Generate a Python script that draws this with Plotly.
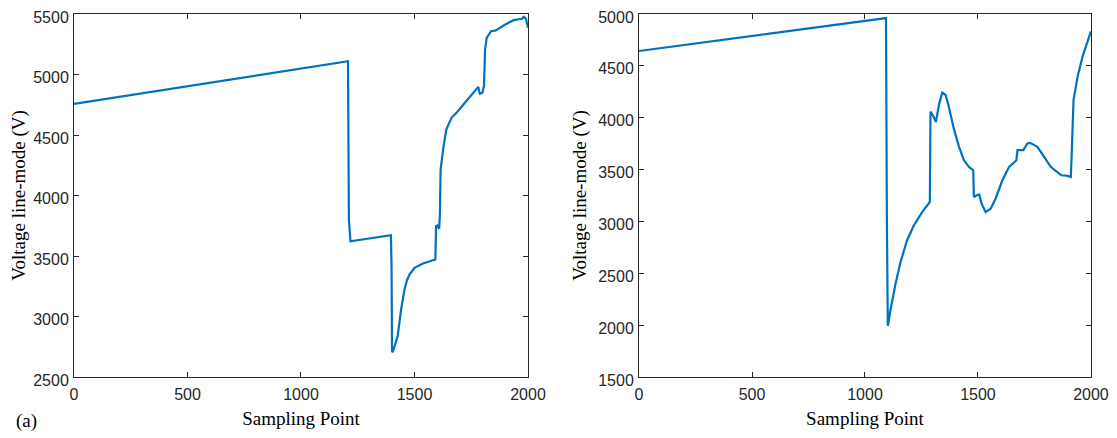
import plotly.graph_objects as go
from plotly.subplots import make_subplots

# left panel (a)
x_a = [0, 1207, 1211, 1215, 1218, 1396, 1399, 1401, 1404, 1408, 1416, 1426, 1441, 1456, 1467, 1478, 1500, 1537,
       1592, 1595, 1601, 1607, 1609, 1612, 1615, 1626, 1640, 1663, 1685, 1722, 1781, 1785, 1788,
       1799, 1806, 1811, 1818, 1837, 1858, 1900, 1936, 1973, 1981, 1991, 2000]
v_a = [4757, 5110, 3800, 3630, 3622, 3672, 3400, 2713, 2705, 2727, 2780, 2838, 3058, 3223, 3300, 3347, 3402, 3438,
       3471, 3747, 3752, 3730, 3733, 3850, 4215, 4380, 4545, 4642, 4683, 4766, 4898, 4860, 4840,
       4849, 4904, 5207, 5303, 5358, 5364, 5413, 5449, 5460, 5477, 5460, 5386]

# right panel
x_b = [0, 1093, 1097, 1101, 1104, 1112, 1135, 1157, 1186, 1216, 1253, 1287, 1290, 1302, 1314,
       1327, 1342, 1357, 1371, 1393, 1416, 1438, 1460, 1479, 1482, 1494, 1506, 1516,
       1534, 1556, 1578, 1608, 1638, 1670, 1675, 1701, 1719, 1731, 1763, 1793, 1822,
       1859, 1870, 1893, 1911, 1914, 1917, 1923, 1941, 1963, 2000]
v_b = [4643, 4961, 3000, 1994, 2020, 2139, 2397, 2606, 2816, 2961, 3090, 3187, 4058, 4016, 3958,
       4123, 4242, 4219, 4106, 3897, 3719, 3590, 3526, 3494, 3235, 3252, 3258, 3171,
       3090, 3123, 3219, 3397, 3526, 3590, 3687, 3687, 3752, 3758, 3719, 3623, 3526,
       3461, 3445, 3442, 3429, 3600, 3816, 4171, 4397, 4590, 4832]

line_col = "#0072BD"
axis_col = "#262626"

fig = make_subplots(rows=1, cols=2)
fig.add_trace(go.Scatter(x=x_a, y=v_a, mode="lines", line=dict(color=line_col, width=2.2)),
              row=1, col=1)
fig.add_trace(go.Scatter(x=x_b, y=v_b, mode="lines", line=dict(color=line_col, width=2.2)),
              row=1, col=2)

axis_style = dict(showline=True, mirror="ticks", linecolor=axis_col, linewidth=1,
                  ticks="inside", ticklen=5, tickcolor=axis_col, showgrid=False,
                  zeroline=False, automargin=False, ticklabeloverflow="allow",
                  tickfont=dict(family="Liberation Sans, Arial", size=16, color=axis_col))
title_font = dict(family="Liberation Serif, Times New Roman", size=19, color="black")

fig.update_xaxes(**axis_style, range=[0, 2000], dtick=500, ticklabelstandoff=3,
                 title=dict(text="Sampling Point", font=title_font, standoff=9))
fig.update_yaxes(**axis_style, ticklabelshift=3, ticklabelstandoff=1,
                 title=dict(text="Voltage line-mode (V)", font=title_font, standoff=6))
# the page body adds an 8px offset, so the figure is 8px smaller than the window
fig.update_xaxes(domain=[0.0595, 0.4689], row=1, col=1)
fig.update_xaxes(domain=[0.569, 0.9765], row=1, col=2)
fig.update_yaxes(range=[2500, 5500], dtick=500, row=1, col=1)
fig.update_yaxes(range=[1500, 5000], dtick=500, row=1, col=2)

fig.add_annotation(x=0.0055, y=-0.12, xref="paper", yref="paper", text="(a)", showarrow=False,
                   xanchor="left", yanchor="middle", font=title_font)

fig.update_layout(width=1109, height=430, showlegend=False,
                  plot_bgcolor="white", paper_bgcolor="white",
                  margin=dict(l=0, r=0, t=6, b=61))

fig.write_html("out.html")
